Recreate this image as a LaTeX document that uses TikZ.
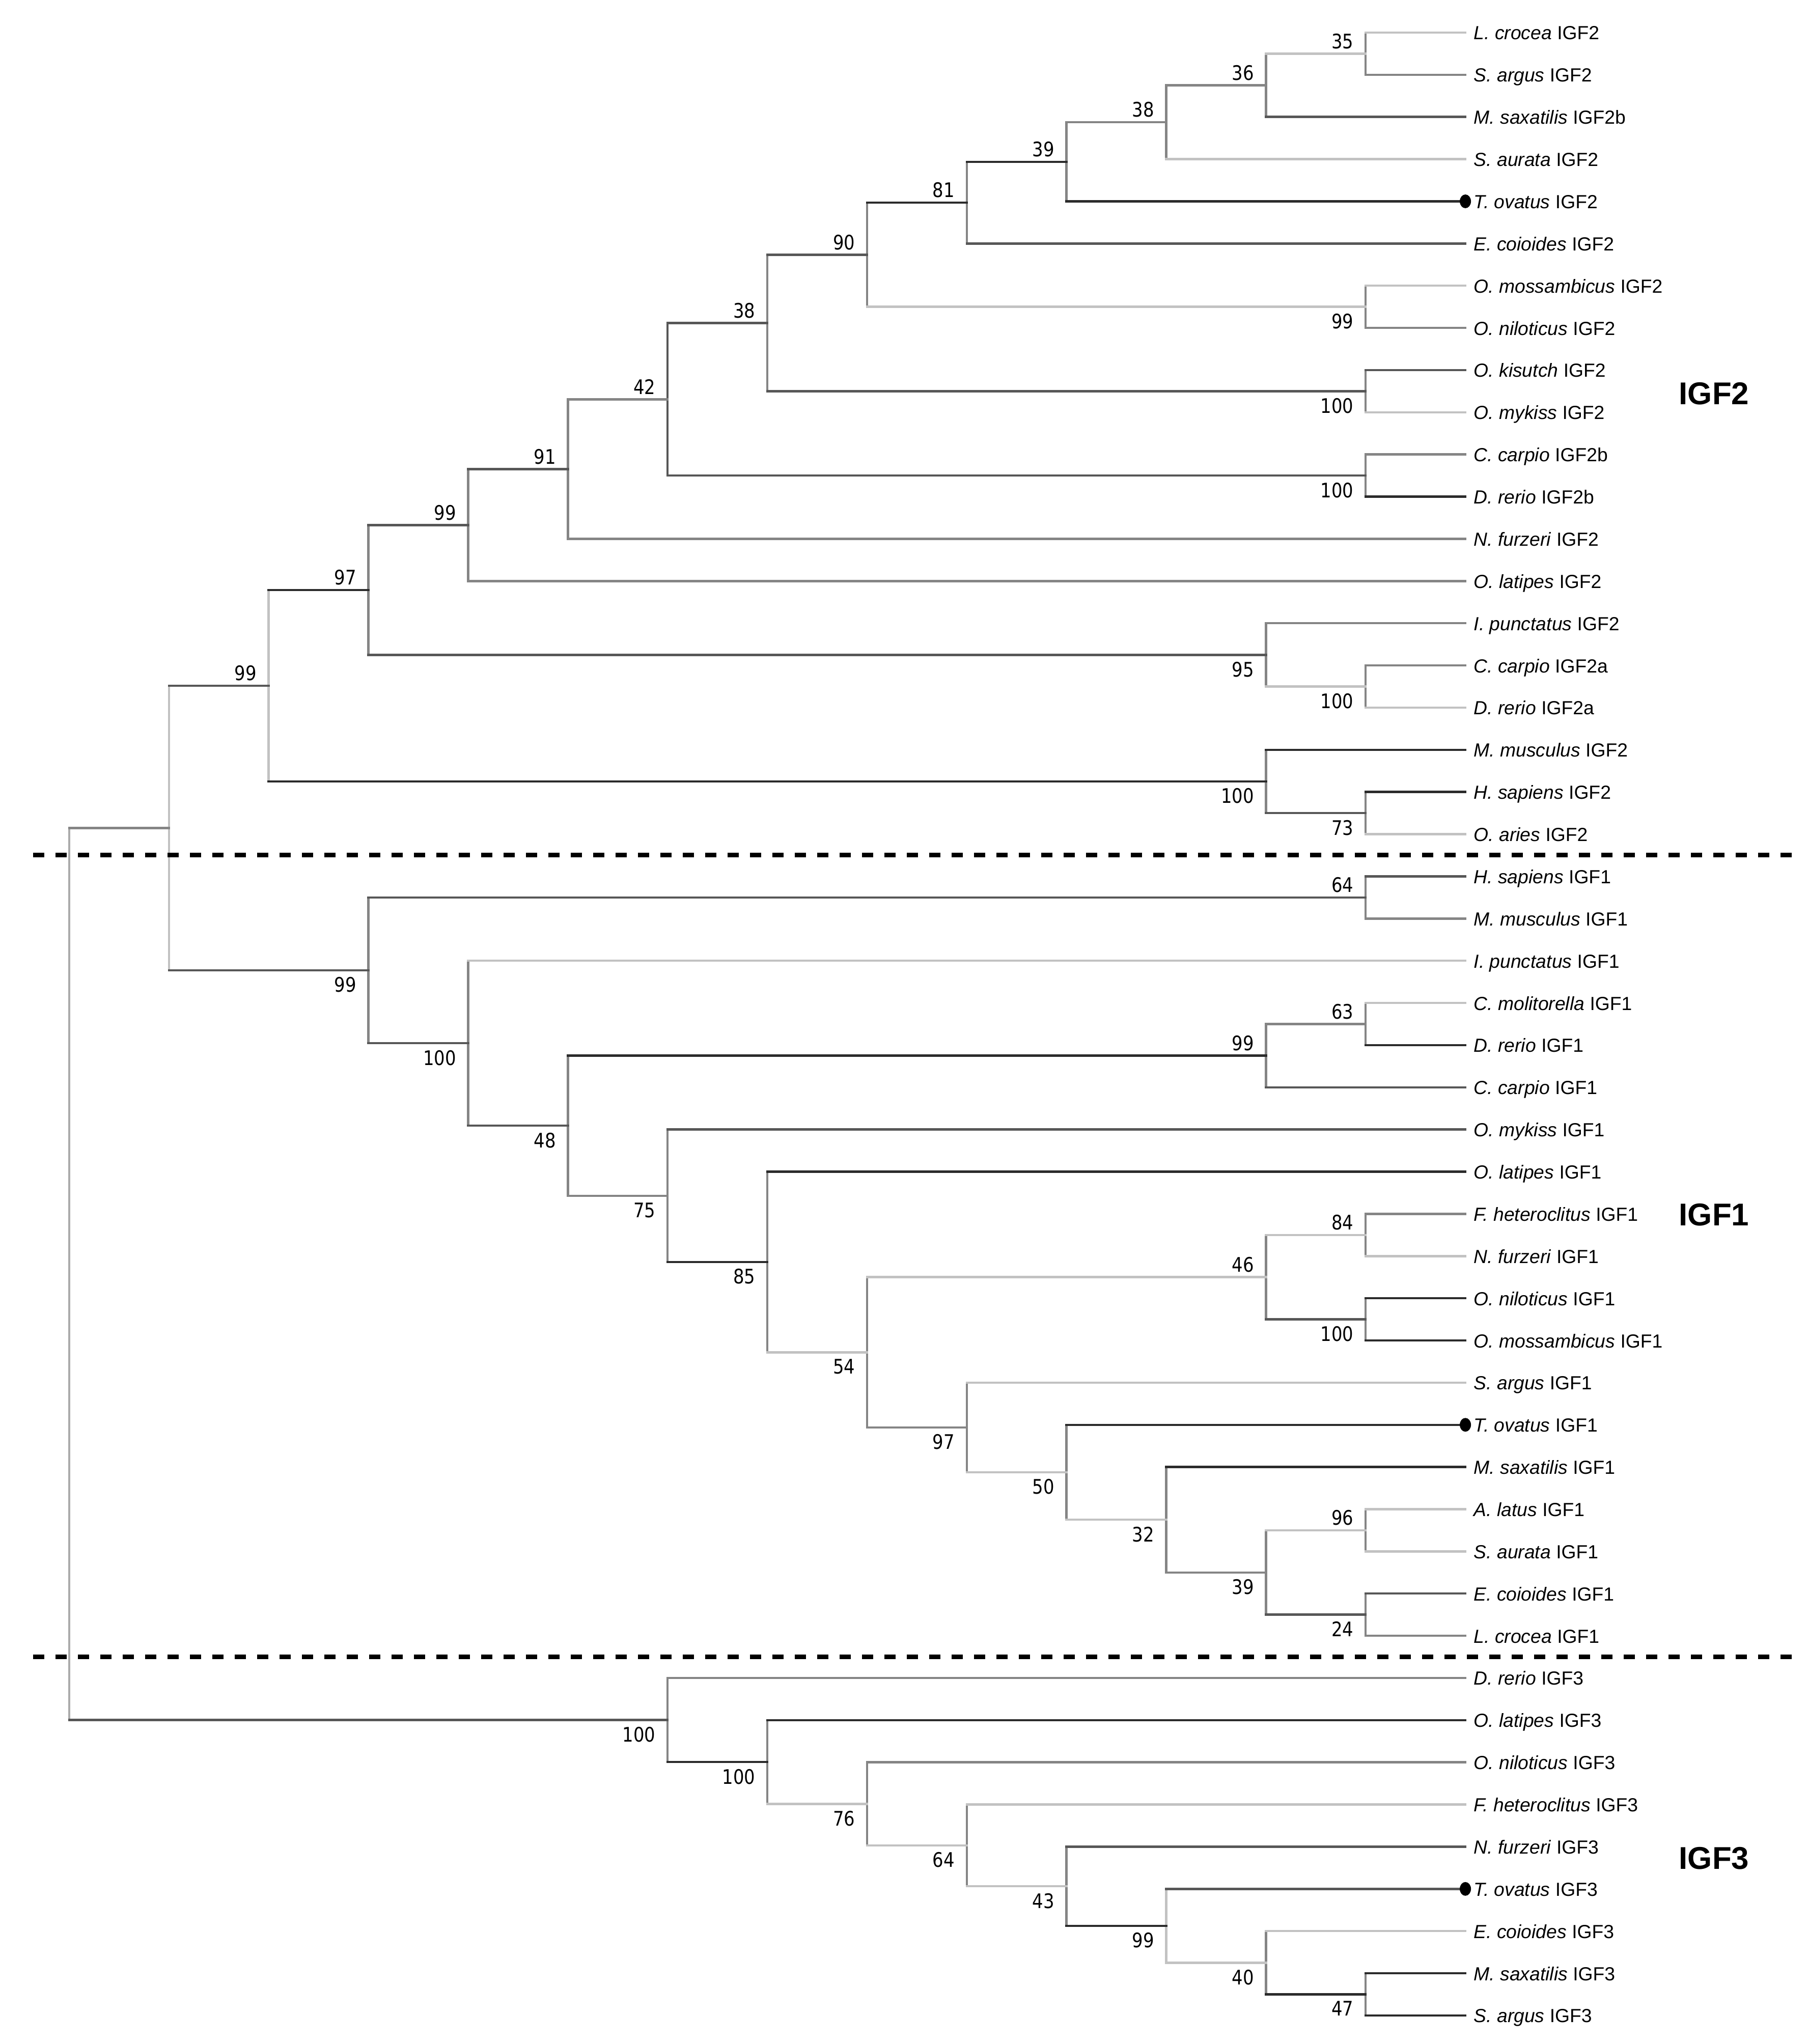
\documentclass[tikz,border=0pt]{standalone}
\usepackage{fontspec}
\newfontfamily\leaffont{Liberation Sans}
\newfontfamily\numfont[FakeStretch=0.86]{DejaVu Sans}
\definecolor{cK}{HTML}{2B2B2B}
\definecolor{cD}{HTML}{575757}
\definecolor{cM}{HTML}{858585}
\definecolor{cL}{HTML}{C2C2C2}
\definecolor{cR}{HTML}{ABABAB}
\tikzset{
  br/.style={line width=0.045cm, line cap=rect},
  hK/.style={br, draw=cK}, hD/.style={br, draw=cD},
  hM/.style={br, draw=cM}, hL/.style={br, draw=cL},
  vK/.style={br, draw=cK}, vD/.style={br, draw=cD},
  vM/.style={br, draw=cM}, vL/.style={br, draw=cL}, vR/.style={br, draw=cR},
  leaflab/.style={anchor=base west, inner sep=0pt, xshift=0.16cm, yshift=-0.14cm,
    font=\leaffont\fontsize{10.6}{12}\selectfont},
  bsa/.style={anchor=south east, inner sep=0pt, xshift=-0.23cm, yshift=0.09cm,
    font=\numfont\fontsize{11.2}{12}\selectfont},
  bsb/.style={anchor=north east, inner sep=0pt, xshift=-0.23cm, yshift=-0.13cm,
    font=\numfont\fontsize{11.2}{12}\selectfont},
  grp/.style={anchor=west, inner sep=0pt,
    font=\leaffont\bfseries\fontsize{17.6}{20}\selectfont},
  sepline/.style={line width=0.09cm, draw=black, dash pattern=on 0.22cm off 0.22cm},
  tipdot/.style={fill=black}
}
\begin{document}
\begin{tikzpicture}
\useasboundingbox (0,0) rectangle (35.51cm,-40.15cm);
\fill[white] (0,0) rectangle (35.51cm,-40.15cm);
\begin{scope}[shift={(1.36cm,-0.64cm)}, x=1.9586cm, y=-0.8287cm]
% leaves
\foreach \i in {0,...,47} { \coordinate (l\i) at (14,\i); }
% internal nodes
\foreach \n/\k/\y in {
  n35/13/0.5, n36/12/1.25, n38a/11/2.125, n39/10/3.0625, n81/9/4.03125,
  n99a/13/6.5, n90/8/5.265625, n100a/13/8.5, n38b/7/6.8828125, n100b/13/10.5,
  n42/6/8.69140625, n91/5/10.345703, n99b/4/11.672852, n100c/13/15.5, n95/12/14.75,
  n97/3/13.211426, n73/13/18.5, n100d/12/17.75, n99c/2/15.480713,
  m64/13/20.5, m63/13/23.5, m99/12/24.25, m84/13/28.5, m100/13/30.5, m46/12/29.5,
  m96/13/35.5, m24/13/37.5, m39/12/36.5, m32/11/35.25, m50/10/34.125, m97/9/33.0625,
  m54/8/31.28125, m85/7/29.140625, m75/6/27.5703125, m48/5/25.91015625,
  m100b/4/23.955078, m99b/3/22.227539, A/1/18.854126,
  g47/13/46.5, g40/12/45.75, g99/11/44.875, g43/10/43.9375, g64/9/42.96875,
  g76/8/41.984375, g100b/7/40.9921875, g100a/6/39.99609375, root/0/29.425109}
  { \coordinate (\n) at (\k,\y); }
% vertical segments
\foreach \n/\a/\b/\c in {
  n35/l0/l1/M, n36/n35/l2/M, n38a/n36/l3/M, n39/n38a/l4/M, n81/n39/l5/M,
  n99a/l6/l7/M, n90/n81/n99a/M, n100a/l8/l9/M, n38b/n90/n100a/M, n100b/l10/l11/M,
  n42/n38b/n100b/D, n91/n42/l12/M, n99b/n91/l13/M, n100c/l15/l16/M, n95/l14/n100c/M,
  n97/n99b/n95/M, n73/l18/l19/M, n100d/l17/n73/M, n99c/n97/n100d/L,
  m64/l20/l21/M, m63/l23/l24/M, m99/m63/l25/M, m84/l28/l29/M, m100/l30/l31/M,
  m46/m84/m100/M, m96/l35/l36/M, m24/l37/l38/M, m39/m96/m24/M, m32/l34/m39/M,
  m50/l33/m32/M, m97/l32/m50/M, m54/m46/m97/M, m85/l27/m54/M, m75/l26/m85/M,
  m48/m99/m75/M, m100b/l22/m48/M, m99b/m64/m100b/M, A/n99c/m99b/L,
  g47/l46/l47/M, g40/l45/g47/M, g99/l44/g40/L, g43/l43/g99/M, g64/l42/g43/M,
  g76/l41/g64/M, g100b/l40/g76/M, g100a/l39/g100b/M, root/A/g100a/R}
  { \draw[v\c] (\n |- \a) -- (\n |- \b); }
% internal horizontal branches with bootstrap values
\foreach \n/\p/\c/\lab/\pos in {
  n35/n36/L/35/a, n36/n38a/M/36/a, n38a/n39/M/38/a, n39/n81/K/39/a, n81/n90/K/81/a,
  n99a/n90/L/99/b, n90/n38b/D/90/a, n100a/n38b/D/100/b, n38b/n42/D/38/a,
  n100b/n42/D/100/b, n42/n91/M/42/a, n91/n99b/D/91/a, n99b/n97/D/99/a,
  n100c/n95/L/100/b, n95/n97/D/95/b, n97/n99c/K/97/a, n73/n100d/D/73/b,
  n100d/n99c/K/100/b, n99c/A/D/99/a,
  m64/m99b/D/64/a, m63/m99/M/63/a, m99/m48/K/99/a, m84/m46/L/84/a, m100/m46/D/100/b,
  m46/m54/L/46/a, m96/m39/L/96/a, m24/m39/D/24/b, m39/m32/M/39/b, m32/m50/L/32/b,
  m50/m97/L/50/b, m97/m54/M/97/b, m54/m85/L/54/b, m85/m75/K/85/b, m75/m48/M/75/b,
  m48/m100b/D/48/b, m100b/m99b/D/100/b, m99b/A/D/99/b,
  g47/g40/K/47/b, g40/g99/L/40/b, g99/g43/K/99/b, g43/g64/L/43/b, g64/g76/L/64/b,
  g76/g100b/L/76/b, g100b/g100a/K/100/b, g100a/root/D/100/b}
  { \draw[h\c] (\p |- \n) -- (\n);
    \node[bs\pos] (b\n) at (\n) {\lab}; }
\draw[hM] (root |- A) -- (A);
% leaf branches and labels
\foreach \i/\p/\c/\sp/\g in {
  0/n35/L/L. crocea/IGF2, 1/n35/M/S. argus/IGF2, 2/n36/D/M. saxatilis/IGF2b,
  3/n38a/L/S. aurata/IGF2, 4/n39/K/T. ovatus/IGF2, 5/n81/D/E. coioides/IGF2,
  6/n99a/L/O. mossambicus/IGF2, 7/n99a/M/O. niloticus/IGF2, 8/n100a/D/O. kisutch/IGF2,
  9/n100a/L/O. mykiss/IGF2, 10/n100b/M/C. carpio/IGF2b, 11/n100b/K/D. rerio/IGF2b,
  12/n91/M/N. furzeri/IGF2, 13/n99b/M/O. latipes/IGF2, 14/n95/M/I. punctatus/IGF2,
  15/n100c/M/C. carpio/IGF2a, 16/n100c/L/D. rerio/IGF2a, 17/n100d/K/M. musculus/IGF2,
  18/n73/K/H. sapiens/IGF2, 19/n73/L/O. aries/IGF2,
  20/m64/D/H. sapiens/IGF1, 21/m64/M/M. musculus/IGF1, 22/m100b/L/I. punctatus/IGF1,
  23/m63/L/C. molitorella/IGF1, 24/m63/K/D. rerio/IGF1, 25/m99/D/C. carpio/IGF1,
  26/m75/D/O. mykiss/IGF1, 27/m85/K/O. latipes/IGF1, 28/m84/M/F. heteroclitus/IGF1,
  29/m84/L/N. furzeri/IGF1, 30/m100/K/O. niloticus/IGF1, 31/m100/K/O. mossambicus/IGF1,
  32/m97/L/S. argus/IGF1, 33/m50/K/T. ovatus/IGF1, 34/m32/K/M. saxatilis/IGF1,
  35/m96/L/A. latus/IGF1, 36/m96/L/S. aurata/IGF1, 37/m24/D/E. coioides/IGF1,
  38/m24/M/L. crocea/IGF1,
  39/g100a/M/D. rerio/IGF3, 40/g100b/K/O. latipes/IGF3, 41/g76/M/O. niloticus/IGF3,
  42/g64/L/F. heteroclitus/IGF3, 43/g43/D/N. furzeri/IGF3, 44/g99/D/T. ovatus/IGF3,
  45/g40/L/E. coioides/IGF3, 46/g47/K/M. saxatilis/IGF3, 47/g47/K/S. argus/IGF3}
  { \draw[h\c] (\p |- l\i) -- (l\i);
    \node[leaflab] (t\i) at (l\i) {\textit{\sp} \g}; }
% tip marks for T. ovatus
\foreach \i in {4,33,44} { \fill[tipdot] (l\i) ellipse [x radius=0.11cm, y radius=0.135cm]; }
% separators
\coordinate (s1a) at (-0.3625,19.5); \coordinate (s1b) at (17.334,19.5);
\coordinate (s2a) at (-0.3625,38.5); \coordinate (s2b) at (17.334,38.5);
\draw[sepline] (s1a) -- (s1b);
\draw[sepline] (s2a) -- (s2b);
% group labels
\node[grp] (gIGF2) at (16.139,8.556) {IGF2};
\node[grp] (gIGF1) at (16.139,28.02) {IGF1};
\node[grp] (gIGF3) at (16.139,43.27) {IGF3};
\end{scope}
\end{tikzpicture}
\end{document}
